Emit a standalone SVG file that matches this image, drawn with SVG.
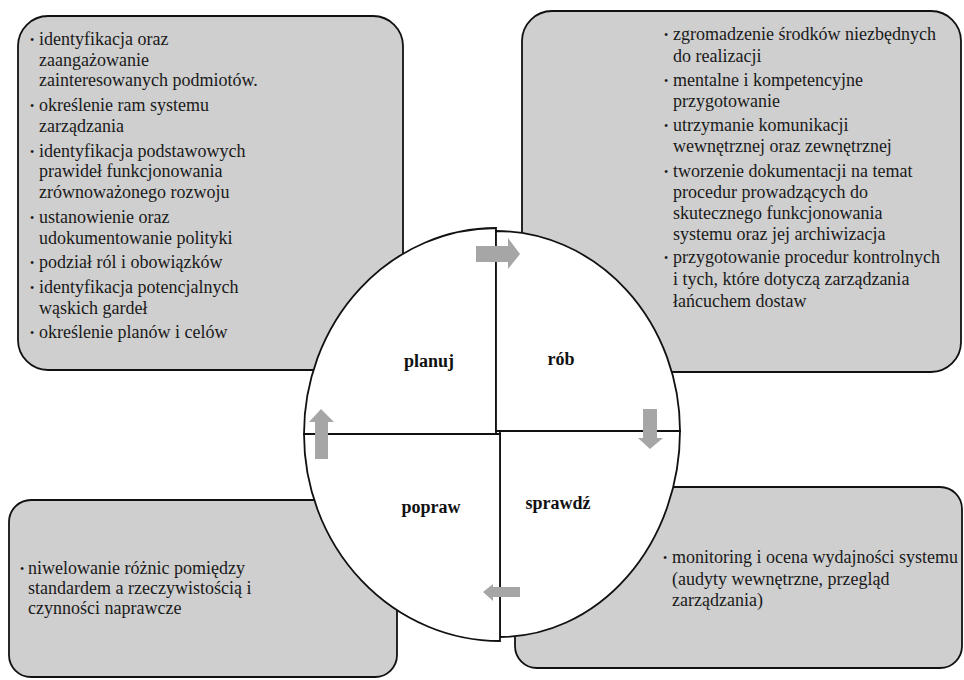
<svg xmlns="http://www.w3.org/2000/svg" width="964" height="680" viewBox="0 0 964 680">
<style>
.box{fill:#cfcfcf;stroke:#111;stroke-width:1.8}
.q{fill:#fff;stroke:#111;stroke-width:1.8;stroke-linejoin:miter}
.t{font-family:"Liberation Serif","Times New Roman",serif;font-size:18px;fill:#1a1a1a}
.b{font-family:"Liberation Serif","Times New Roman",serif;font-size:12px;fill:#1a1a1a}
.lbl{font-family:"Liberation Serif","Times New Roman",serif;font-size:18px;font-weight:bold;fill:#111;text-anchor:middle}
.arr{fill:#a6a6a6}
</style>
<rect width="964" height="680" fill="#fff"/>
<g id="box-plan">
<rect class="box" x="18" y="16" width="385" height="354" rx="30"/>
<text class="b" x="30" y="44">•</text><text class="t" x="39" y="45">identyfikacja oraz</text>
<text class="t" x="39" y="65.5">zaangażowanie</text>
<text class="t" x="39" y="86">zainteresowanych podmiotów.</text>
<text class="b" x="30" y="110">•</text><text class="t" x="39" y="111">określenie ram systemu</text>
<text class="t" x="39" y="131.5">zarządzania</text>
<text class="b" x="30" y="156">•</text><text class="t" x="39" y="157">identyfikacja podstawowych</text>
<text class="t" x="39" y="177">prawideł funkcjonowania</text>
<text class="t" x="39" y="197.5">zrównoważonego rozwoju</text>
<text class="b" x="30" y="222">•</text><text class="t" x="39" y="223">ustanowienie oraz</text>
<text class="t" x="39" y="243.5">udokumentowanie polityki</text>
<text class="b" x="30" y="267">•</text><text class="t" x="39" y="268">podział ról i obowiązków</text>
<text class="b" x="30" y="292">•</text><text class="t" x="39" y="293">identyfikacja potencjalnych</text>
<text class="t" x="39" y="313.5">wąskich gardeł</text>
<text class="b" x="30" y="337">•</text><text class="t" x="39" y="338">określenie planów i celów</text>
</g>
<g id="box-do">
<rect class="box" x="522" y="11" width="439" height="361" rx="30"/>
<text class="b" x="664" y="39">•</text><text class="t" x="673" y="40">zgromadzenie środków niezbędnych</text>
<text class="t" x="673" y="61.5">do realizacji</text>
<text class="b" x="664" y="85">•</text><text class="t" x="673" y="86">mentalne i kompetencyjne</text>
<text class="t" x="673" y="107">przygotowanie</text>
<text class="b" x="664" y="130">•</text><text class="t" x="673" y="131">utrzymanie komunikacji</text>
<text class="t" x="673" y="152">wewnętrznej oraz zewnętrznej</text>
<text class="b" x="664" y="176">•</text><text class="t" x="673" y="177">tworzenie dokumentacji na temat</text>
<text class="t" x="673" y="198">procedur prowadzących do</text>
<text class="t" x="673" y="219">skutecznego funkcjonowania</text>
<text class="t" x="673" y="240">systemu oraz jej archiwizacja</text>
<text class="b" x="664" y="262">•</text><text class="t" x="673" y="263">przygotowanie procedur kontrolnych</text>
<text class="t" x="673" y="285">i tych, które dotyczą zarządzania</text>
<text class="t" x="673" y="307">łańcuchem dostaw</text>
</g>
<g id="box-act">
<rect class="box" x="9" y="500" width="388" height="177" rx="22"/>
<text class="b" x="20" y="573">•</text><text class="t" x="28" y="574">niwelowanie różnic pomiędzy</text>
<text class="t" x="28" y="594">standardem a rzeczywistością i</text>
<text class="t" x="28" y="614">czynności naprawcze</text>
</g>
<g id="box-check">
<rect class="box" x="515" y="487" width="447" height="181" rx="22"/>
<text class="b" x="663" y="562">•</text><text class="t" x="672" y="563">monitoring i ocena wydajności systemu</text>
<text class="t" x="672" y="585">(audyty wewnętrzne, przegląd</text>
<text class="t" x="672" y="606">zarządzania)</text>
</g>
<g id="q-planuj">
<path class="q" d="M496,434 L304,434 A192,206 0 0 1 496,228 Z"/>
<text class="lbl" x="429" y="367">planuj</text>
</g>
<g id="q-rob">
<path class="q" d="M496,431 L496,231 A184,200 0 0 1 680,431 Z"/>
<text class="lbl" x="561" y="365">rób</text>
</g>
<g id="q-sprawdz">
<path class="q" d="M500,431 L680,431 A180,206 0 0 1 500,637 Z"/>
<text class="lbl" x="558" y="509">sprawdź</text>
</g>
<g id="q-popraw">
<path class="q" d="M500,434 L500,641 A196,207 0 0 1 304,434 Z"/>
<text class="lbl" x="431" y="513">popraw</text>
</g>
<g id="connectors">
<polygon class="arr" points="476,246 508,246 508,238 520,254 508,269 508,262 476,262"/>
<polygon class="arr" points="643,409 657,409 657,438 663,438 650,449 638,438 643,438"/>
<polygon class="arr" points="520,587 493,587 493,584 483,592 493,601 493,597 520,597"/>
<polygon class="arr" points="315,459 315,422 309,422 321,409 334,422 328,422 328,459"/>
</g>
</svg>
